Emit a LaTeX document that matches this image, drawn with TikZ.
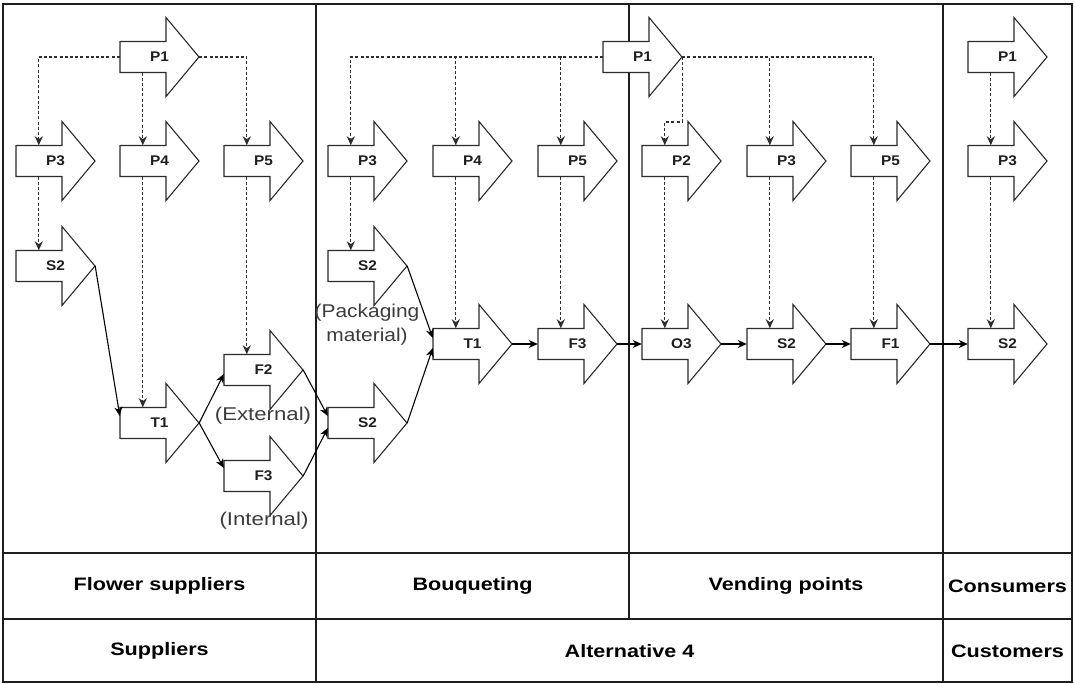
\documentclass[tikz,border=0pt]{standalone}
\usepackage{fontspec}
\usepackage{graphicx}
\newfontfamily\lsans{Liberation Sans}
\usetikzlibrary{arrows.meta}

\definecolor{frameink}{HTML}{1E1E1E}
\definecolor{shapeink}{HTML}{2B2B2B}
\definecolor{dashink}{HTML}{2E2E2E}
\definecolor{noteink}{HTML}{3C3C3C}

% slightly widened lettering
\newcommand{\hwide}[2][1.2]{\scalebox{#1}[1]{#2}}

\tikzset{
  stepbody/.style={rectangle, minimum width=79pt, minimum height=31pt, inner sep=0pt,
    font=\lsans\bfseries\fontsize{14}{16}\selectfont, text=frameink},
  stepline/.style={draw=shapeink, fill=white, line width=1.1pt, line join=miter},
  dashline/.style={draw=dashink, line width=1.25pt, dash pattern=on 3pt off 2.2pt,
    -{Stealth[length=9pt,width=8pt,inset=2.8pt]}},
  flowline/.style={draw=black, line width=1.1pt,
    -{Stealth[length=9pt,width=8pt,inset=2.8pt]}},
  note/.style={font=\lsans\fontsize{18.5}{24}\selectfont, text=noteink, inner sep=0pt, align=center},
  rowlabel/.style={font=\lsans\bfseries\fontsize{18}{20}\selectfont, text=black, inner sep=0pt},
  frame/.style={draw=frameink, line width=1.3pt}
}

% process step: filled arrow outline, then the named body node on top
\newcommand{\flowstep}[3]{%
  \draw[stepline, shift={(#2)}] (-39.5,-15.5) -- (6.5,-15.5) -- (6.5,-39.5)
    -- (39.5,0) -- (6.5,39.5) -- (6.5,15.5) -- (-39.5,15.5) -- cycle;
  \node[stepbody] (#1) at (#2) {\hwide[1.1]{#3}};
}

\begin{document}
\begin{tikzpicture}[x=1pt,y=-1pt]
\useasboundingbox (0,0) rectangle (1075,684);
\fill[white] (0,0) rectangle (1075,684);

% ---- table frame ----
\draw[frame] (3,4) rectangle (1072,682);
\draw[frame] (316,4) -- (316,682);
\draw[frame] (629,4) -- (629,619);
\draw[frame] (943,4) -- (943,682);
\draw[frame] (3,553) -- (1072,553);
\draw[frame] (3,619) -- (1072,619);

% ---- row labels ----
\node[rowlabel] (flowersup) at (159.5,586) {\hwide{Flower suppliers}};
\node[rowlabel] (bouq) at (472.5,586) {\hwide{Bouqueting}};
\node[rowlabel] (vend) at (786,586) {\hwide{Vending points}};
\node[rowlabel] (cons) at (1007.5,586) {\hwide{Consumers}};
\node[rowlabel] (supp) at (159.5,651) {\hwide{Suppliers}};
\node[rowlabel] (alt) at (629.5,651) {\hwide{Alternative 4}};
\node[rowlabel] (cust) at (1007.5,651) {\hwide{Customers}};

% ---- flower suppliers ----
\flowstep{aP1}{159.5,57}{P1}
\flowstep{aP3}{55.5,161}{P3}
\flowstep{aP4}{159.5,161}{P4}
\flowstep{aP5}{263.5,161}{P5}
\flowstep{aS2}{55.5,266}{S2}
\flowstep{aT1}{159.5,423}{T1}
\flowstep{aF2}{263.5,370}{F2}
\flowstep{aF3}{263.5,476}{F3}

% ---- bouqueting ----
\flowstep{bP1}{642.5,57}{P1}
\flowstep{bP3}{367.5,161}{P3}
\flowstep{bP4}{472.5,161}{P4}
\flowstep{bP5}{577.5,161}{P5}
\flowstep{bS2}{367.5,266}{S2}
\flowstep{bT1}{472.5,344}{T1}
\flowstep{bF3}{577.5,344}{F3}
\flowstep{bS2b}{367.5,423}{S2}

% ---- vending points ----
\flowstep{cP2}{681.5,161}{P2}
\flowstep{cP3}{786.5,161}{P3}
\flowstep{cP5}{890.5,161}{P5}
\flowstep{cO3}{681.5,344}{O3}
\flowstep{cS2}{786.5,344}{S2}
\flowstep{cF1}{890.5,344}{F1}

% ---- consumers ----
\flowstep{dP1}{1007.5,57}{P1}
\flowstep{dP3}{1007.5,161}{P3}
\flowstep{dS2}{1007.5,344}{S2}

% ---- notes ----
\node[note] (ext) at (263,416) {\hwide{(External)}};
\node[note] (int) at (264,521) {\hwide{(Internal)}};
\node[note] (pack) at (367,325) {\hwide[1.13]{(Packaging}\\\hwide[1.13]{material)}};

% ---- dashed links ----
\draw[dashline] (aP1.west) -| ([xshift=23pt]aP3.north west);
\draw[dashline] ([xshift=23pt]aP1.south west) -- ([xshift=23pt]aP4.north west);
\draw[dashline] (aP1.east) -| ([xshift=23pt]aP5.north west);
\draw[dashline] ([xshift=23pt]aP3.south west) -- ([xshift=23pt]aS2.north west);
\draw[dashline] ([xshift=23pt]aP4.south west) -- ([xshift=23pt]aT1.north west);
\draw[dashline] ([xshift=23pt]aP5.south west) -- ([xshift=23pt]aF2.north west);

\draw[dashline] (bP1.west) -| ([xshift=23pt]bP3.north west);
\draw[dashline] (bP1.west) -| ([xshift=23pt]bP4.north west);
\draw[dashline] (bP1.west) -| ([xshift=23pt]bP5.north west);
\draw[dashline] ([xshift=23pt]bP3.south west) -- ([xshift=23pt]bS2.north west);
\draw[dashline] ([xshift=23pt]bP4.south west) -- ([xshift=23pt]bT1.north west);
\draw[dashline] ([xshift=23pt]bP5.south west) -- ([xshift=23pt]bF3.north west);

\draw[dashline] (bP1.east) -- ++(0,65) -| ([xshift=23pt]cP2.north west);
\draw[dashline] (bP1.east) -| ([xshift=23pt]cP3.north west);
\draw[dashline] (bP1.east) -| ([xshift=23pt]cP5.north west);
\draw[dashline] ([xshift=23pt]cP2.south west) -- ([xshift=23pt]cO3.north west);
\draw[dashline] ([xshift=23pt]cP3.south west) -- ([xshift=23pt]cS2.north west);
\draw[dashline] ([xshift=23pt]cP5.south west) -- ([xshift=23pt]cF1.north west);

\draw[dashline] ([xshift=23pt]dP1.south west) -- ([xshift=23pt]dP3.north west);
\draw[dashline] ([xshift=23pt]dP3.south west) -- ([xshift=23pt]dS2.north west);

% ---- material flow ----
\draw[flowline] (aS2.east) -- ([yshift=7pt]aT1.west);
\draw[flowline] (aT1.east) -- ([yshift=-4pt]aF2.west);
\draw[flowline] (aT1.east) -- ([yshift=8pt]aF3.west);
\draw[flowline] (aF2.east) -- ([yshift=7pt]bS2b.west);
\draw[flowline] (aF3.east) -- ([yshift=-5pt]bS2b.west);
\draw[flowline] (bS2.east) -- ([yshift=6pt]bT1.west);
\draw[flowline] (bS2b.east) -- ([yshift=-4pt]bT1.west);
\draw[flowline] (bT1.east) -- (bF3.west);
\draw[flowline] (bF3.east) -- (cO3.west);
\draw[flowline] (cO3.east) -- (cS2.west);
\draw[flowline] (cS2.east) -- (cF1.west);
\draw[flowline] (cF1.east) -- (dS2.west);
\end{tikzpicture}
\end{document}
